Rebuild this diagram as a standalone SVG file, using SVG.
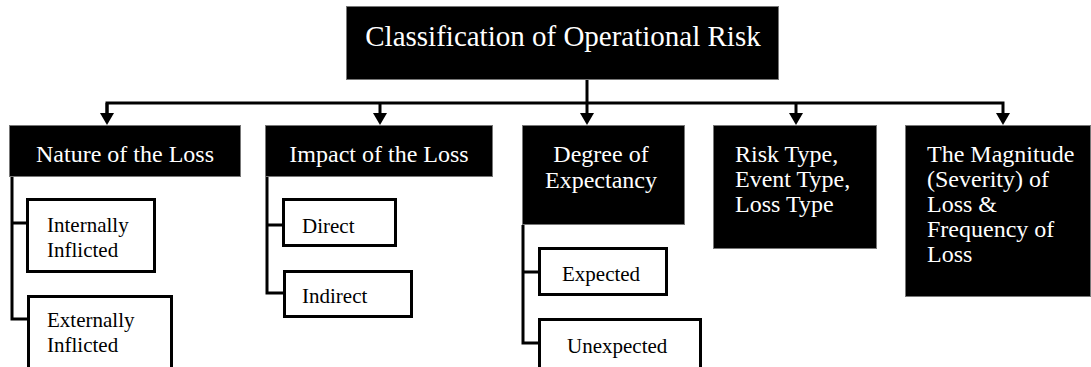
<svg xmlns="http://www.w3.org/2000/svg" width="1091" height="367" viewBox="0 0 1091 367">
  <style>
    .head { fill: #000; stroke: #777; stroke-width: 1; }
    .sub { fill: #fff; stroke: #000; stroke-width: 3; }
    .ht { font-family: "Liberation Serif", "Times New Roman", serif; font-size: 24px; fill: #fff; }
    .st { font-family: "Liberation Serif", "Times New Roman", serif; font-size: 21px; fill: #000; }
    .wire { fill: none; stroke: #000; stroke-width: 3; }
  </style>
  <defs>
    <marker id="arrow" markerUnits="userSpaceOnUse" markerWidth="12" markerHeight="14" refX="0" refY="7" orient="auto" viewBox="0 0 12 14">
      <path d="M0,0 L12,7 L0,14 Z" fill="#000"/>
    </marker>
  </defs>

  <rect width="1091" height="367" fill="#fff"/>

  <!-- connectors -->
  <g id="connectors">
    <path class="wire" d="M587,80 V113" marker-end="url(#arrow)"/>
    <path class="wire" d="M107,113 V103 H1003 V113" marker-end="url(#arrow)"/>
    <path class="wire" d="M107,103 V113" marker-end="url(#arrow)"/>
    <path class="wire" d="M380,103 V113" marker-end="url(#arrow)"/>
    <path class="wire" d="M796,103 V113" marker-end="url(#arrow)"/>
    <!-- branches under the category boxes -->
    <path class="wire" d="M12,177 V319 H28 M12,223 H27"/>
    <path class="wire" d="M267,177 V293 H284 M267,225 H283"/>
    <path class="wire" d="M523,225 V343 H539 M523,272 H539"/>
  </g>

  <!-- root -->
  <g id="root">
    <rect class="head" x="346.5" y="6.5" width="432" height="73"/>
    <text x="563" y="46" font-family="Liberation Serif, Times New Roman, serif" font-size="29" fill="#fff" text-anchor="middle">Classification of Operational Risk</text>
  </g>

  <!-- category nodes -->
  <g id="nature">
    <rect class="head" x="9.5" y="125.5" width="231" height="51"/>
    <text class="ht" x="125" y="162" text-anchor="middle">Nature of the Loss</text>
  </g>
  <g id="impact">
    <rect class="head" x="265.5" y="125.5" width="227" height="51"/>
    <text class="ht" x="379" y="162" text-anchor="middle">Impact of the Loss</text>
  </g>
  <g id="degree">
    <rect class="head" x="522.5" y="125.5" width="162" height="99"/>
    <text class="ht" x="601" y="162" text-anchor="middle">Degree of</text>
    <text class="ht" x="601" y="188" text-anchor="middle">Expectancy</text>
  </g>
  <g id="risktype">
    <rect class="head" x="713.5" y="125.5" width="163" height="123"/>
    <text class="ht" x="735" y="162">Risk Type,</text>
    <text class="ht" x="735" y="187">Event Type,</text>
    <text class="ht" x="735" y="212">Loss Type</text>
  </g>
  <g id="magnitude">
    <rect class="head" x="905.5" y="125.5" width="185" height="171"/>
    <text class="ht" x="927" y="162">The Magnitude</text>
    <text class="ht" x="927" y="187">(Severity) of</text>
    <text class="ht" x="927" y="212">Loss &amp;</text>
    <text class="ht" x="927" y="237">Frequency of</text>
    <text class="ht" x="927" y="262">Loss</text>
  </g>

  <!-- leaf nodes -->
  <g id="internally">
    <rect class="sub" x="27.5" y="199.5" width="127" height="72"/>
    <text class="st" x="47" y="232">Internally</text>
    <text class="st" x="47" y="257">Inflicted</text>
  </g>
  <g id="externally">
    <rect class="sub" x="28.5" y="296.5" width="143" height="80"/>
    <text class="st" x="47" y="327">Externally</text>
    <text class="st" x="47" y="352">Inflicted</text>
  </g>
  <g id="direct">
    <rect class="sub" x="283.5" y="199.5" width="112" height="46"/>
    <text class="st" x="302" y="233">Direct</text>
  </g>
  <g id="indirect">
    <rect class="sub" x="284.5" y="271.5" width="127" height="45"/>
    <text class="st" x="302" y="303">Indirect</text>
  </g>
  <g id="expected">
    <rect class="sub" x="539.5" y="248.5" width="127" height="46"/>
    <text class="st" x="562" y="281">Expected</text>
  </g>
  <g id="unexpected">
    <rect class="sub" x="539.5" y="319.5" width="161" height="60"/>
    <text class="st" x="567" y="353">Unexpected</text>
  </g>
</svg>
